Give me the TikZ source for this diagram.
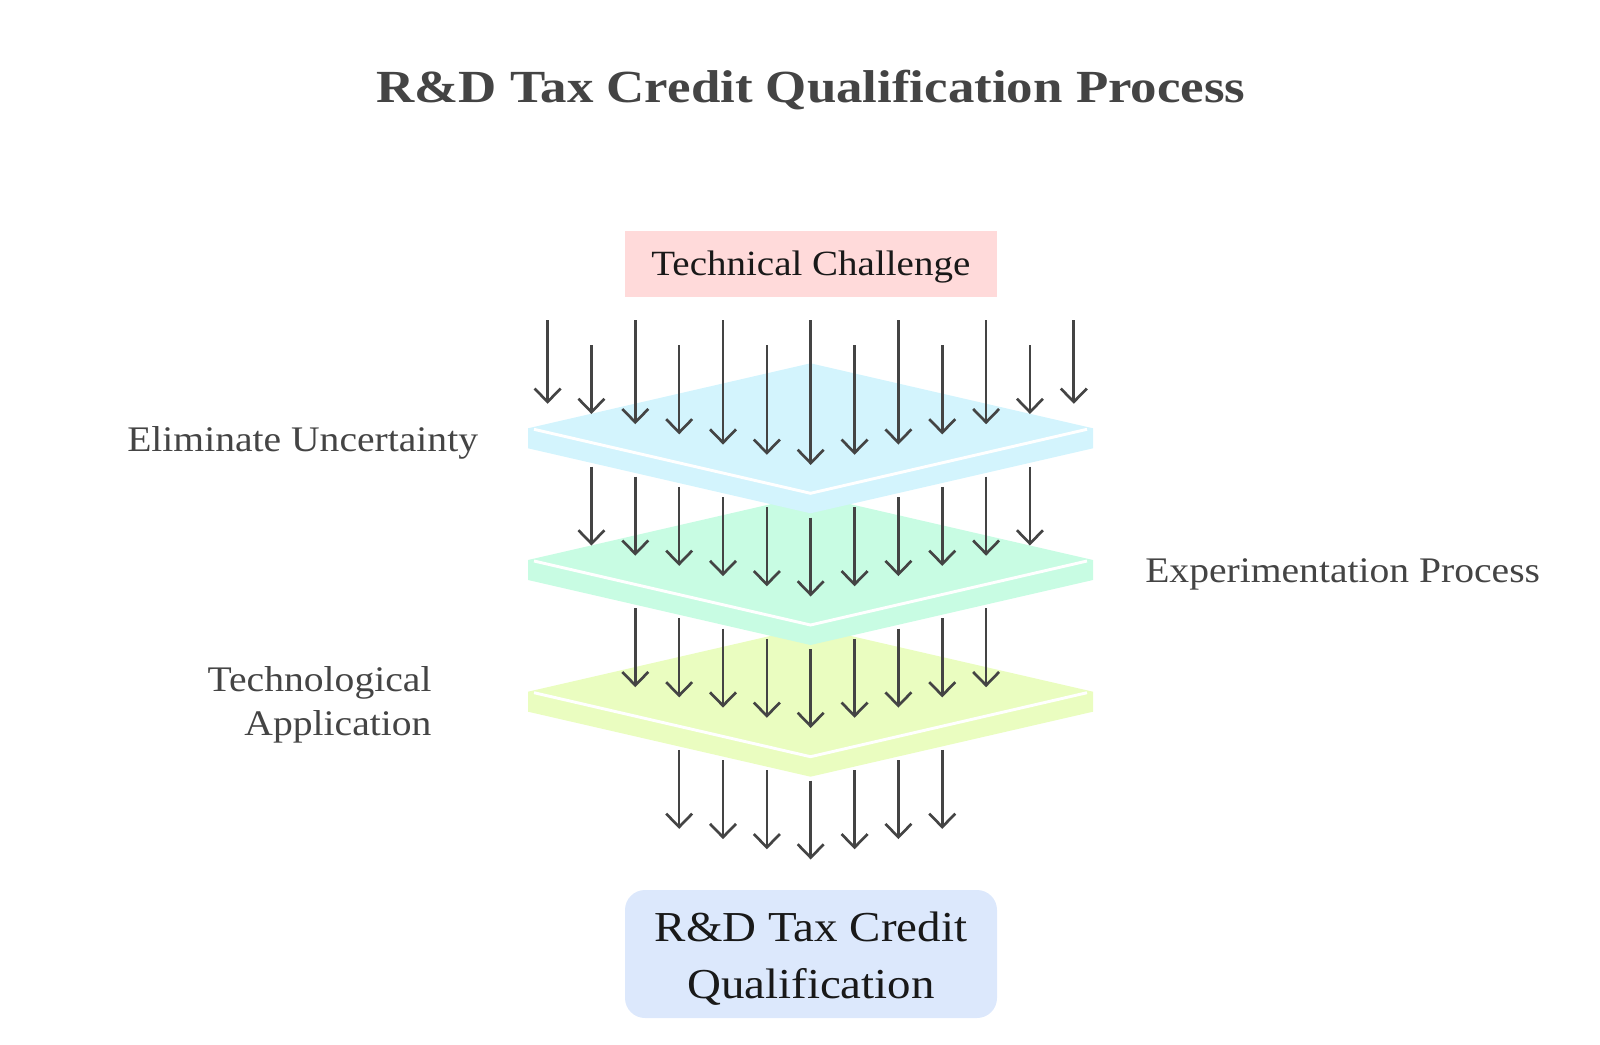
\documentclass[tikz,border=0pt]{standalone}
\usepackage{fontspec}
\setmainfont{Liberation Serif}[FakeStretch=1.1]
\newfontfamily\titlefont{Liberation Serif}[FakeStretch=1.15]
\usetikzlibrary{arrows.meta}
\definecolor{inkgray}{HTML}{444444}
\definecolor{challengepink}{HTML}{FFDADA}
\definecolor{slabblue}{HTML}{D3F4FD}
\definecolor{slabgreen}{HTML}{C8FCE3}
\definecolor{slabyellow}{HTML}{EAFDC0}
\definecolor{creditblue}{HTML}{DCE8FC}

\begin{document}
\begin{tikzpicture}[x=0.75pt,y=-0.75pt]
	\tikzstyle{sidelabel}=[text=inkgray,font=\fontsize{27}{32.5}\selectfont,inner sep=0pt]
	\tikzstyle{flow}=[draw=inkgray,line width=2pt,-{Straight Barb[length=10pt,width=19.5pt]}]
	\useasboundingbox (0,0) rectangle (1600,1045);

	\node[text=inkgray,font=\titlefont\bfseries\fontsize{34.5}{40}\selectfont,anchor=base,inner sep=0pt](title) at (811,102.7) {R\&D Tax Credit Qualification Process};

	% the three layers, lowest first
	\foreach \yy/\col in {691.7/slabyellow,560/slabgreen,428.3/slabblue}{
		\fill[\col] (528,\yy) -- (810.5,\yy-65) -- (1093,\yy) -- (1093,\yy+20) -- (810.5,\yy+85) -- (528,\yy+20) -- cycle;
		\draw[white,line width=2.2pt] (534,\yy+1) -- (810.5,\yy+65) -- (1087,\yy+1);
	}

	\node[fill=challengepink,minimum width=278.8pt,minimum height=49.3pt,text height=19pt,text depth=2.2pt,font=\fontsize{26.6}{32}\selectfont,text=black!90](challenge) at (810.8,263.8) {Technical Challenge};
	\node[fill=creditblue,rounded corners=15pt,minimum width=279pt,minimum height=96pt,text height=74pt,text depth=7.5pt,align=center,font=\fontsize{32}{42.5}\selectfont,text=black!90](credit) at (811,954) {R\&D Tax Credit\\Qualification};

	\node[sidelabel,anchor=base east](uncertainty) at (478.3,451.7) {Eliminate Uncertainty};
	\node[sidelabel,anchor=base west](experiment) at (1145,582.7) {Experimentation Process};
	\node[sidelabel,align=right,anchor=base east](application) at (431.7,735) {Technological\\Application};

	% arrows raining through the layers
	\foreach \L in {0,...,3}{
		\pgfmathtruncatemacro\nn{6-\L}
		\foreach \k in {-\nn,...,\nn}{
			\pgfmathsetmacro\xx{810.7+43.85*\k}
			\pgfmathsetmacro\ytip{465+131.5*\L-10.2*abs(\k)}
			\pgfmathsetmacro\yodd{isodd(abs(\k)) ? 345 : 320}
			\pgfmathsetmacro\ytop{\L==0 ? \yodd : \ytip-79}
			\draw[flow] (\xx,\ytop) -- (\xx,\ytip);
		}
	}
\end{tikzpicture}
\end{document}
